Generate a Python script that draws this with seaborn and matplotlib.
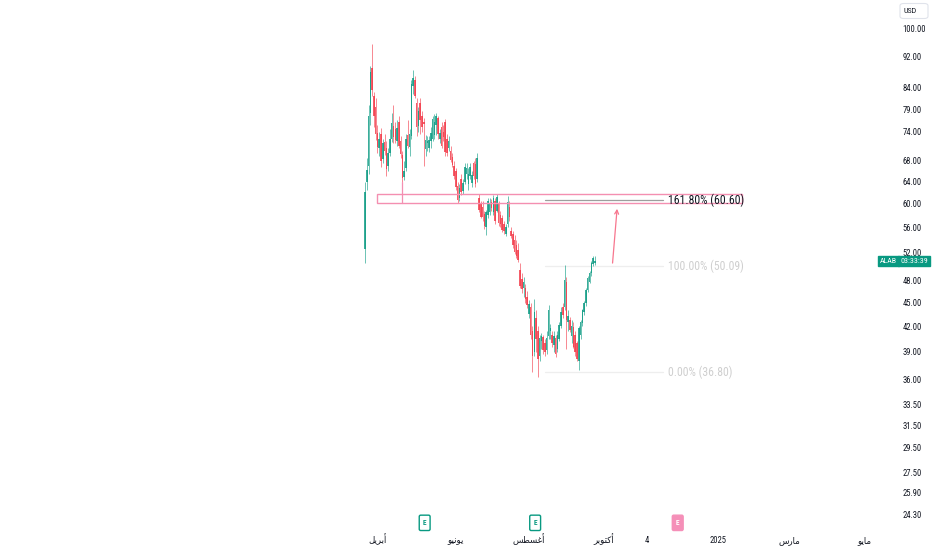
import numpy as np
import pandas as pd
import matplotlib
matplotlib.use("Agg")
import matplotlib.pyplot as plt
import matplotlib.transforms as mtransforms
from matplotlib.patches import Rectangle, FancyBboxPatch
from matplotlib.ticker import FixedLocator, NullLocator
from matplotlib import font_manager
import seaborn as sns

# ---------------- data ----------------
START = "2024-03-20"
HOLIDAYS = ["2024-03-29", "2024-05-27", "2024-06-19", "2024-07-04", "2024-09-02",
            "2024-11-28", "2024-12-25", "2025-01-01", "2025-01-20", "2025-02-17",
            "2025-04-18"]

opens = [52.6, 64.0, 67.0, 78.0, 89.0, 82.0, 79.5, 73.8, 70.5, 73.5,
         68.3, 71.8, 70.5, 67.0, 69.5, 72.5, 75.2, 74.5, 72.0, 76.0,
         72.0, 69.2, 64.8, 66.5, 73.2, 70.8, 73.0, 84.5, 86.0, 80.5,
         75.2, 80.5, 77.5, 76.2, 70.4, 71.5, 70.5, 72.0, 72.5, 73.2,
         75.5, 77.0, 72.5, 75.0, 74.0, 76.0, 72.5, 70.5, 70.0, 68.8,
         67.0, 66.0, 63.2, 61.0, 64.5, 62.2, 64.0, 65.5, 63.5, 65.0,
         63.8, 67.5, 67.3, 64.5, 61.0, 60.0, 59.5, 58.3, 56.0, 58.0,
         58.5, 60.3, 58.5, 60.5, 58.8, 60.0, 58.0, 57.5, 56.5, 55.0,
         56.5, 59.5, 55.5, 55.0, 54.0, 53.2, 52.5, 49.5, 48.2, 47.0,
         47.0, 45.8, 43.6, 44.5, 41.5, 39.0, 43.0, 41.5, 38.5, 40.2,
         40.7, 40.0, 39.2, 40.8, 41.5, 41.0, 39.8, 40.6, 39.3, 40.5,
         42.0, 44.5, 44.4, 47.8, 42.5, 42.8, 40.8, 41.9, 41.0, 40.0,
         38.0, 41.0, 42.4, 43.8, 45.0, 46.7, 47.8, 49.0, 50.4, 50.5]
highs = [64.0, 68.5, 80.0, 89.5, 95.5, 83.0, 81.5, 75.5, 74.0, 74.8,
         72.5, 73.5, 72.0, 70.5, 74.5, 78.0, 80.0, 76.0, 76.5, 77.5,
         73.0, 70.0, 68.0, 73.5, 76.5, 74.5, 86.0, 88.5, 87.0, 81.5,
         79.5, 81.5, 78.5, 77.0, 73.3, 73.0, 73.0, 75.0, 77.5, 77.8,
         78.2, 77.5, 74.5, 76.0, 75.5, 76.8, 73.5, 73.0, 71.0, 69.5,
         68.0, 66.5, 64.0, 63.5, 65.5, 64.5, 67.5, 67.5, 66.5, 67.5,
         66.0, 68.0, 68.5, 69.5, 61.8, 60.5, 60.5, 58.8, 59.0, 61.0,
         61.0, 60.8, 61.5, 61.0, 61.8, 60.5, 58.8, 58.0, 57.0, 56.5,
         61.3, 60.5, 56.0, 55.5, 54.8, 54.0, 53.5, 50.5, 49.0, 48.5,
         47.5, 46.5, 45.3, 45.0, 42.0, 45.5, 44.0, 42.0, 41.0, 41.2,
         41.0, 40.5, 41.5, 44.7, 42.3, 41.5, 41.5, 41.0, 41.5, 42.5,
         44.5, 45.0, 50.2, 48.5, 44.0, 43.2, 42.8, 42.5, 41.5, 40.3,
         42.0, 42.8, 44.2, 45.2, 47.0, 48.6, 49.3, 50.8, 51.5, 51.6]
lows = [50.5, 62.5, 65.5, 75.5, 82.0, 75.0, 72.2, 69.5, 69.0, 66.8,
        67.5, 69.2, 65.0, 66.0, 69.0, 71.8, 71.5, 71.5, 71.0, 70.5,
        68.5, 64.0, 64.2, 66.0, 70.5, 69.0, 72.5, 82.5, 81.5, 73.0,
        74.0, 73.5, 74.0, 67.0, 69.0, 70.0, 69.8, 70.5, 72.0, 72.5,
        73.2, 72.5, 71.5, 70.5, 72.0, 69.0, 69.0, 70.0, 67.8, 66.8,
        64.5, 62.5, 60.2, 60.5, 61.5, 61.8, 63.5, 64.5, 62.5, 64.5,
        63.0, 64.5, 63.0, 64.0, 58.5, 57.5, 57.0, 55.8, 54.8, 57.5,
        58.0, 58.8, 58.0, 56.5, 58.5, 56.2, 56.0, 55.2, 55.0, 54.6,
        56.0, 57.0, 54.3, 52.8, 51.8, 51.2, 50.6, 47.0, 46.3, 45.8,
        45.0, 44.3, 43.0, 40.5, 36.8, 38.5, 39.0, 36.3, 38.0, 39.3,
        38.8, 38.5, 38.8, 40.5, 40.5, 39.6, 39.0, 38.4, 39.0, 40.3,
        41.8, 43.0, 44.0, 39.3, 41.5, 41.3, 40.0, 39.4, 38.5, 38.0,
        37.0, 40.5, 42.0, 43.4, 44.6, 46.4, 47.6, 48.6, 50.0, 50.2]
closes = [62.0, 66.2, 77.5, 88.0, 83.6, 77.5, 73.5, 70.8, 72.4, 68.0,
          71.5, 70.0, 66.3, 69.5, 72.5, 75.8, 72.8, 72.2, 74.8, 71.0,
          69.4, 64.6, 65.9, 72.5, 71.0, 73.5, 85.0, 86.5, 82.0, 75.0,
          78.5, 76.5, 75.0, 75.6, 72.2, 72.0, 72.3, 73.8, 76.8, 76.0,
          77.5, 73.5, 73.8, 71.0, 72.8, 69.8, 69.5, 72.0, 68.2, 67.2,
          65.0, 63.0, 60.7, 62.8, 62.0, 63.8, 66.8, 66.5, 65.5, 66.8,
          65.2, 65.0, 63.5, 68.5, 59.0, 57.8, 57.8, 56.2, 58.5, 60.5,
          60.2, 59.2, 61.0, 57.0, 61.2, 56.8, 56.6, 55.6, 55.4, 56.1,
          60.3, 57.8, 54.6, 53.2, 52.2, 51.6, 51.0, 47.3, 46.8, 47.8,
          45.5, 44.7, 44.8, 41.0, 38.5, 43.8, 40.5, 38.2, 40.6, 40.8,
          39.2, 39.0, 40.6, 44.0, 41.8, 40.0, 40.8, 38.8, 41.0, 42.2,
          43.8, 43.4, 48.1, 42.8, 43.3, 41.6, 42.0, 39.6, 39.0, 38.2,
          41.8, 42.5, 44.0, 45.0, 46.7, 48.3, 49.1, 50.5, 51.2, 50.8]

price_ticks = [100.00, 92.00, 84.00, 79.00, 74.00, 68.00, 64.00, 60.00, 56.00,
               52.00, 48.00, 45.00, 42.00, 39.00, 36.00, 33.50, 31.50, 29.50,
               27.50, 25.90, 24.30]

# month labels (Arabic, given in visual / presentation-form order)
time_tick_dates = ["2024-04-01", "2024-06-03", "2024-08-01", "2024-10-01",
                   "2024-11-04", "2025-01-02", "2025-03-03", "2025-05-01"]
time_tick_labels = ["\uFEDE\uFEF3\uFEAE\uFE91\uFE83",        # أبريل
                    "\uFEEE\uFEF4\uFEE7\uFEEE\uFEF3",        # يونيو
                    "\uFEB2\uFEC4\uFEB4\uFECF\uFE83",        # أغسطس
                    "\uFEAE\uFE91\uFEEE\uFE98\uFEDB\uFE83",  # أكتوبر
                    "4", "2025",
                    "\uFEB1\uFEAD\uFE8E\uFEE3",              # مارس
                    "\uFEEE\uFEF3\uFE8E\uFEE3"]              # مايو

earnings_dates = ["2024-05-07", "2024-08-06", "2024-11-27"]
earnings_reported = [True, True, False]

fib_ratios = ["0.00%", "100.00%", "161.80%"]
fib_prices = [36.80, 50.09, 60.60]
zone_low, zone_high = 60.2, 61.7
symbol = "ALAB"
countdown = "03:33:39"
currency = "USD"

# ---------------- styling ----------------
UP, DOWN = "#089981", "#f23645"
PINK = "#f48fb1"
TXT = "#131722"

sns.set_theme(style="white")
available = {f.name for f in font_manager.fontManager.ttflist}
narrow = None
for cand in ["Liberation Sans Narrow", "DejaVu Sans Condensed", "Roboto Condensed",
             "Open Sans Condensed", "Noto Sans Condensed"]:
    if cand in available:
        narrow = cand
        break
if narrow is None:
    narrow = "Liberation Sans" if "Liberation Sans" in available else "DejaVu Sans"
NARROW_IS_REAL = narrow not in ("Liberation Sans", "DejaVu Sans")
plt.rcParams["font.family"] = [narrow, "DejaVu Sans"]
SCALE = 1.0 if NARROW_IS_REAL else 0.85

def bar_of(d):
    return int(np.busday_count(START, d, holidays=HOLIDAYS))

df = pd.DataFrame({"open": opens, "high": highs, "low": lows, "close": closes})
df["bar"] = np.arange(len(df))
df["up"] = df["close"] >= df["open"]
df["col"] = np.where(df["up"], UP, DOWN)
df["bottom"] = df[["open", "close"]].min(axis=1)
df["height"] = (df["open"] - df["close"]).abs().clip(lower=0.15)

W, H = 932, 550
fig = plt.figure(figsize=(W / 100, H / 100), dpi=100)
fig.patch.set_facecolor("white")
ax = fig.add_axes([0, 20 / H, 893 / W, 530 / H])
ax.set_facecolor("white")
ax.set_yscale("log")
ax.set_ylim(23.24, 108.48)
ax.set_xlim(-204.8, 296.3)

# candles
ax.vlines(df["bar"], df["low"], df["high"], colors=df["col"], lw=0.55, alpha=0.75, zorder=3)
ax.bar(df["bar"], df["height"], bottom=df["bottom"], width=0.85, color=df["col"],
       alpha=0.8, linewidth=0, zorder=4)

# pink zone rectangle
zone_x0, zone_x1 = 6.7, 211.8
ax.add_patch(Rectangle((zone_x0, zone_low), zone_x1 - zone_x0, zone_high - zone_low,
                       fill=False, edgecolor=PINK, lw=1.0, zorder=5))
ax.plot([21, 21], [lows[21], zone_low], color=PINK, lw=0.9, zorder=5)

# fib levels
fib_x0, fib_x1, fib_tx = 101, 167, 170.2
fib_line_cols = ["#eeeeee", "#eeeeee", "#9e9e9e"]
fib_txt_cols = ["#cfcfcf", "#cfcfcf", TXT]
for r, p, lc, tc in zip(fib_ratios, fib_prices, fib_line_cols, fib_txt_cols):
    ax.plot([fib_x0, fib_x1], [p, p], color=lc, lw=0.9, zorder=2)
    ax.text(fib_tx, p, f"{r} ({p:.2f})", color=tc, fontsize=8.5 * SCALE, va="center",
            ha="left", zorder=6)

# projection arrow
ax.annotate("", xy=(141.6, 59.6), xytext=(138.8, fib_prices[1]),
            arrowprops=dict(arrowstyle="->", color="#f7768e", lw=0.9, mutation_scale=7),
            zorder=6)

# axes / ticks
for s in ax.spines.values():
    s.set_visible(False)
ax.yaxis.tick_right()
ax.yaxis.set_major_locator(FixedLocator(price_ticks))
ax.yaxis.set_minor_locator(NullLocator())
ax.set_yticklabels([f"{t:.2f}" for t in price_ticks])
ax.tick_params(axis="y", length=0, pad=7, labelsize=6.2 * SCALE, labelcolor=TXT)
ax.set_xticks([bar_of(d) for d in time_tick_dates])
ax.set_xticklabels(time_tick_labels)
ax.tick_params(axis="x", length=0, pad=9.3, labelsize=6.2, labelcolor=TXT)
for lbl in ax.get_xticklabels():
    lbl.set_verticalalignment("baseline")
ax.grid(False)

# earnings markers
trans_e = mtransforms.blended_transform_factory(ax.transData, ax.transAxes)
for d, rep in zip(earnings_dates, earnings_reported):
    fc, ec, tc = ("white", UP, UP) if rep else ("#f58fb8", "#f58fb8", "white")
    ax.text(bar_of(d) + 0.5, 0.0135, "E", transform=trans_e, ha="center", va="center",
            fontsize=5.3, color=tc, fontweight="bold",
            bbox=dict(boxstyle="round,pad=0.5,rounding_size=0.2", fc=fc, ec=ec, lw=1.0),
            clip_on=False)

# price tag
trans_p = mtransforms.blended_transform_factory(fig.transFigure, ax.transData)
ax.text(888.5 / W, closes[-1], symbol, transform=trans_p, ha="center", va="center",
        fontsize=5.8 * SCALE, color="white",
        bbox=dict(boxstyle="square,pad=0.3", fc=UP, ec=UP), clip_on=False, zorder=10)
ax.text(914 / W, closes[-1], countdown, transform=trans_p, ha="center", va="center",
        fontsize=5.8 * SCALE, color="white",
        bbox=dict(boxstyle="square,pad=0.3", fc=UP, ec=UP), clip_on=False, zorder=10)

# currency button
fig.patches.append(FancyBboxPatch((900 / W, 1 - 18.5 / H), 28 / W, 15 / H,
                                  boxstyle="round,pad=0,rounding_size=0.004",
                                  transform=fig.transFigure, fc="white", ec="#e0e3eb",
                                  lw=0.8))
fig.text(903.5 / W, 1 - 11 / H, currency, ha="left", va="center", fontsize=5.8 * SCALE,
         color=TXT)

fig.savefig("out.png", dpi=100, facecolor="white")
